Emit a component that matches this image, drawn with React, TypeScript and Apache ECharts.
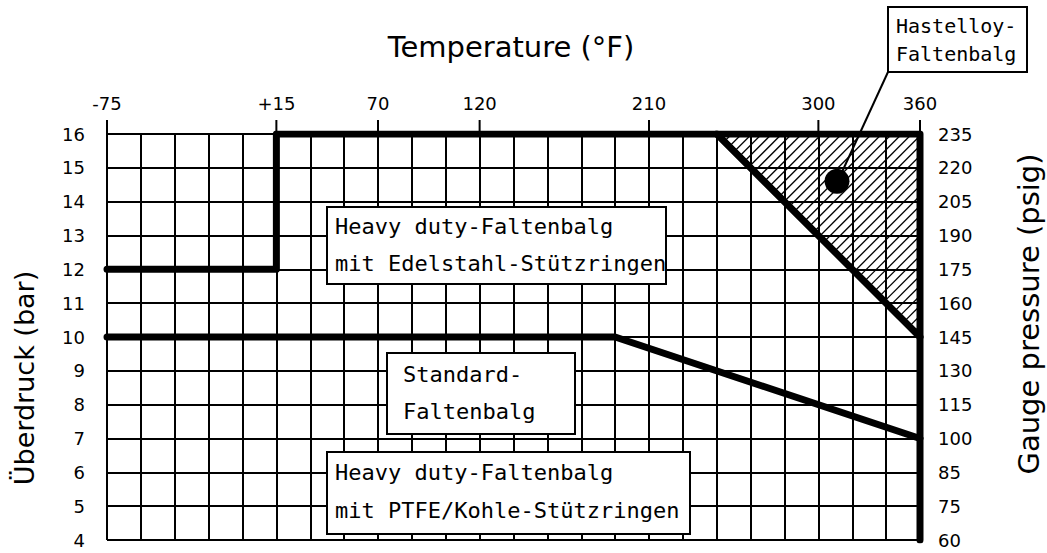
import React, { useEffect, useRef } from "react";
import * as echarts from "echarts";

// X axis runs in °C (one grid column = 10 °C); labels are shown in °F
const tempTicksC = [-60, -10, 20, 50, 100, 150, 180];
const tempLabelsF = ["-75", "+15", "70", "120", "210", "300", "360"];
// Y axis in bar; right-hand labels in psig for each bar gridline 4..16
const barTicks = [4, 5, 6, 7, 8, 9, 10, 11, 12, 13, 14, 15, 16];
const psigLabels = ["60", "75", "85", "100", "115", "130", "145", "160", "175", "190", "205", "220", "235"];

// Boundary curves [°C, bar]
const edelstahlLimit = [[-60, 12], [-10, 12], [-10, 16], [180, 16], [180, 4]];
const standardLimit = [[-60, 10], [90, 10], [180, 7]];
const hastelloyDiagonal = [[120, 16], [180, 10]];
const hastelloyZone = [[120, 16], [180, 16], [180, 10]];
const hastelloyDot = [[155.5, 14.6]];

const FONT = "'DejaVu Sans', sans-serif";
const FONT_BOX = "'DejaVu Sans Mono', 'DejaVu Sans', monospace";

export default function App() {
  const ref = useRef<HTMLDivElement>(null);
  useEffect(() => {
    document.body.style.margin = "0";
    const chart = echarts.init(ref.current!, null, { renderer: "svg" });
    const thin = { color: "#000", width: 2 };
    const axisText = { color: "#000", fontSize: 18, fontFamily: FONT };

    const boxText = (x: number, y: number, text: string, size = 22) => ({
      type: "text",
      x,
      y,
      z: 101,
      style: { text, fill: "#000", font: `${size}px ${FONT_BOX}`, verticalAlign: "middle", align: "left" },
    });
    const box = (x: number, y: number, w: number, h: number) => ({
      type: "rect",
      z: 100,
      shape: { x, y, width: w, height: h },
      style: { fill: "#fff", stroke: "#000", lineWidth: 2 },
    });

    chart.setOption({
      animation: false,
      backgroundColor: "#fff",
      grid: { left: 107, right: 127, top: 134, bottom: 13 },
      xAxis: [
        {
          type: "value",
          min: -60,
          max: 180,
          interval: 10,
          position: "bottom",
          axisLine: { show: false },
          axisTick: { show: false },
          axisLabel: { show: false },
          splitLine: { show: true, lineStyle: thin },
        },
        {
          type: "value",
          min: -60,
          max: 180,
          position: "top",
          axisLine: { show: false },
          axisTick: { show: false },
          axisLabel: {
            ...axisText,
            customValues: tempTicksC,
            margin: 22,
            formatter: (v: number) => {
              const i = tempTicksC.indexOf(v);
              return i >= 0 ? tempLabelsF[i] : "";
            },
          },
          splitLine: { show: false },
        },
      ],
      yAxis: [
        {
          type: "value",
          min: 4,
          max: 16,
          interval: 1,
          position: "left",
          axisLine: { show: false },
          axisTick: { show: true, length: 8, lineStyle: thin },
          axisLabel: { ...axisText, margin: 22 },
          splitLine: { show: true, lineStyle: thin },
        },
        {
          type: "value",
          min: 4,
          max: 16,
          interval: 1,
          position: "right",
          axisLine: { show: false },
          axisTick: { show: true, length: 10, lineStyle: thin },
          axisLabel: {
            ...axisText,
            margin: 18,
            formatter: (v: number) => {
              const i = barTicks.indexOf(v);
              return i >= 0 ? psigLabels[i] : "";
            },
          },
          splitLine: { show: false },
        },
      ],
      series: [
        {
          // top tick marks at the labelled temperatures
          type: "custom",
          xAxisIndex: 0,
          yAxisIndex: 0,
          data: tempTicksC,
          clip: false,
          silent: true,
          z: 2,
          renderItem: (params: any, api: any) => {
            const p = api.coord([tempTicksC[params.dataIndex], 16]);
            return {
              type: "line",
              shape: { x1: p[0], y1: p[1], x2: p[0], y2: p[1] - 14 },
              style: { stroke: "#000", lineWidth: 2 },
            };
          },
        },
        {
          type: "custom",
          xAxisIndex: 0,
          yAxisIndex: 0,
          data: [0],
          z: 3,
          silent: true,
          renderItem: (_p: any, api: any) => {
            const pts = hastelloyZone.map((d) => api.coord(d));
            const sums = pts.map((p: number[]) => p[0] + p[1]);
            const cMin = Math.min(...sums);
            const cMax = Math.max(...sums);
            const step = 10;
            const children: any[] = [];
            for (let c = cMin + step / 2; c < cMax; c += step) {
              const hits: number[][] = [];
              for (let k = 0; k < pts.length; k++) {
                const P = pts[k];
                const Q = pts[(k + 1) % pts.length];
                const den = Q[0] - P[0] + (Q[1] - P[1]);
                if (Math.abs(den) < 1e-9) continue;
                const t = (c - P[0] - P[1]) / den;
                if (t >= 0 && t <= 1) hits.push([P[0] + t * (Q[0] - P[0]), P[1] + t * (Q[1] - P[1])]);
              }
              if (hits.length >= 2) {
                children.push({
                  type: "line",
                  shape: { x1: hits[0][0], y1: hits[0][1], x2: hits[1][0], y2: hits[1][1] },
                  style: { stroke: "#000", lineWidth: 1.3 },
                });
              }
            }
            return { type: "group", children };
          },
        },
        {
          type: "line",
          data: edelstahlLimit,
          symbol: "none",
          z: 5,
          lineStyle: { color: "#000", width: 7, cap: "round", join: "round" },
        },
        {
          type: "line",
          data: standardLimit,
          symbol: "none",
          z: 5,
          lineStyle: { color: "#000", width: 7, cap: "round", join: "round" },
        },
        {
          type: "line",
          data: hastelloyDiagonal,
          symbol: "none",
          z: 5,
          lineStyle: { color: "#000", width: 7, cap: "round", join: "round" },
        },
        {
          type: "scatter",
          data: hastelloyDot,
          symbol: "circle",
          symbolSize: 25,
          z: 6,
          itemStyle: { color: "#000", opacity: 1 },
        },
      ],
      graphic: [
        {
          type: "text",
          x: 511,
          y: 47,
          z: 101,
          style: { text: "Temperature (°F)", fill: "#000", font: `29px ${FONT}`, align: "center", verticalAlign: "middle" },
        },
        {
          type: "text",
          x: 24,
          y: 378,
          rotation: Math.PI / 2,
          z: 101,
          style: { text: "Überdruck (bar)", fill: "#000", font: `27px ${FONT}`, align: "center", verticalAlign: "middle" },
        },
        {
          type: "text",
          x: 1029,
          y: 314,
          rotation: Math.PI / 2,
          z: 101,
          style: { text: "Gauge pressure (psig)", fill: "#000", font: `29px ${FONT}`, align: "center", verticalAlign: "middle" },
        },
        {
          type: "line",
          z: 99,
          shape: { x1: 888, y1: 72, x2: 842, y2: 172 },
          style: { stroke: "#000", lineWidth: 2 },
        },
        box(888, 7, 139, 65),
        boxText(896, 26, "Hastelloy-", 20),
        boxText(896, 54, "Faltenbalg", 20),
        box(327, 207, 339, 77),
        boxText(335, 226, "Heavy duty-Faltenbalg"),
        boxText(335, 263, "mit Edelstahl-Stützringen"),
        box(387, 353, 188, 81),
        boxText(403, 374, "Standard-"),
        boxText(403, 411, "Faltenbalg"),
        box(327, 452, 363, 82),
        boxText(335, 472, "Heavy duty-Faltenbalg"),
        boxText(335, 510, "mit PTFE/Kohle-Stützringen"),
      ],
    });
    return () => chart.dispose();
  }, []);
  return <div ref={ref} style={{ width: 1047, height: 553 }} />;
}
